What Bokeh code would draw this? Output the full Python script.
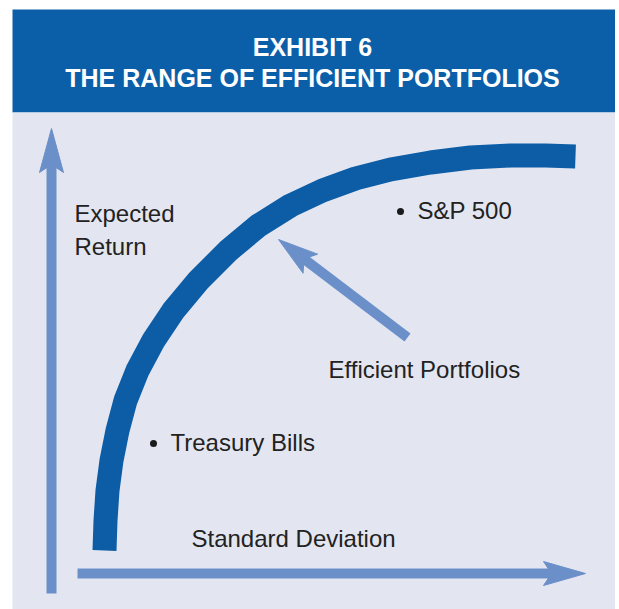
import math
from bokeh.plotting import figure
from bokeh.models import Range1d
from bokeh.core.properties import value
from bokeh.embed import file_html
from bokeh.resources import INLINE

# ---- data (schematic units: standard deviation vs expected return) ----
frontier_sd = [53, 54, 56, 60, 66, 74, 86, 102, 122, 147, 177, 207, 239, 271, 304, 339,
               379, 419, 459, 494, 524]
frontier_ret = [23, 53, 83, 113, 143, 173, 203, 233, 263, 293, 323, 348, 368, 383, 395, 404,
                411, 416, 418, 418, 417]

point_names = ["Treasury Bills", "S&P 500"]
point_sd = [102, 349]
point_ret = [130, 362]

title_lines = ["EXHIBIT 6", "THE RANGE OF EFFICIENT PORTFOLIOS"]
y_label_lines = ["Expected", "Return"]
x_label = "Standard Deviation"
frontier_label = "Efficient Portfolios"

# ---- colours / fonts ----
HEADER = "#0b5fa9"
PANEL = "#e3e6f1"
CURVE = "#0c5da6"
ARROW = "#6b8fc9"
TEXT = "#222222"
FONT = value("Liberation Sans")

W, H = 615, 609
p = figure(width=W, height=H, output_backend="svg", toolbar_location=None,
           x_range=Range1d(-51, 564), y_range=Range1d(-36, 573),
           min_border=0, outline_line_color=None,
           background_fill_color="white", border_fill_color="white")
p.axis.visible = False
p.grid.visible = False

# header band and panel
p.quad(left=[-39], right=[564], bottom=[461], top=[564], fill_color=HEADER, line_color=None)
p.quad(left=[-39], right=[564], bottom=[-40], top=[461], fill_color=PANEL, line_color=None)

for i, t in enumerate(title_lines):
    p.text(x=[261], y=[527 - 31 * i], text=[t], text_align="center", text_baseline="alphabetic",
           text_font=FONT, text_font_style="bold", text_font_size="25px", text_color="white")


def arrow(x0, y0, x1, y1, width, head_len, head_half, notch):
    dx, dy = x1 - x0, y1 - y0
    L = math.hypot(dx, dy)
    ux, uy = dx / L, dy / L
    nx, ny = -uy, ux
    bx, by = x1 - head_len * ux, y1 - head_len * uy
    sx, sy = x1 - (head_len - notch) * ux, y1 - (head_len - notch) * uy
    p.line([x0, sx + ux * 2], [y0, sy + uy * 2], line_width=width, line_color=ARROW, line_cap="butt")
    p.patch([x1, bx + head_half * nx, sx, bx - head_half * nx],
            [y1, by + head_half * ny, sy, by - head_half * ny],
            fill_color=ARROW, line_color=ARROW, line_width=1)


# axes arrows (vertical: expected return, horizontal: standard deviation)
arrow(0, -20, 0, 445, 10, 44, 12, 8)
arrow(26, 0, 534, 0, 10, 42, 12, 8)
# pointer to the frontier
arrow(356, 236, 227, 334, 10, 40, 12, 8)

# efficient frontier
p.line(frontier_sd, frontier_ret, line_width=24, line_color=CURVE, line_cap="butt", line_join="round")

# points
p.scatter(point_sd, point_ret, size=7, fill_color="#1a1a1a", line_color=None)
p.text(x=[v + 17 for v in point_sd], y=[v + 1 for v in point_ret], text=point_names,
       text_baseline="alphabetic", text_font=FONT, text_font_size="24px", text_color=TEXT)

# labels
p.text(x=[23, 23], y=[360, 327], text=y_label_lines, text_baseline="alphabetic",
       text_font=FONT, text_font_size="24px", text_color=TEXT)
p.text(x=[140], y=[35], text=[x_label], text_baseline="alphabetic",
       text_font=FONT, text_font_size="24px", text_color=TEXT)
p.text(x=[277], y=[204], text=[frontier_label], text_baseline="alphabetic",
       text_font=FONT, text_font_size="24px", text_color=TEXT)

open("out.html", "w").write(file_html(p, INLINE))
